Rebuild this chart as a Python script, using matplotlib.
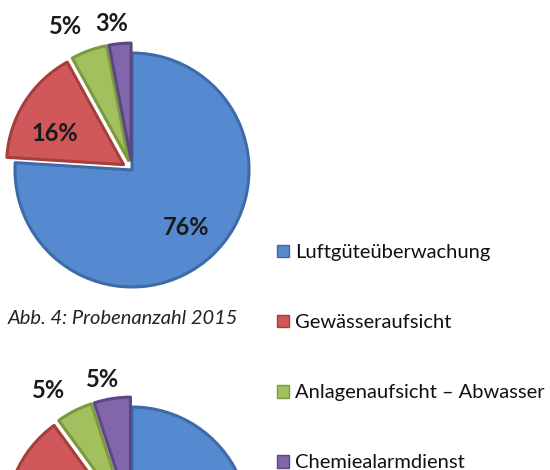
import numpy as np
import matplotlib.pyplot as plt
from matplotlib.patches import Patch

plt.rcParams["font.family"] = ["Lato", "DejaVu Sans"]

categories = ["Luftgüteüberwachung", "Gewässeraufsicht",
              "Anlagenaufsicht – Abwasser", "Chemiealarmdienst"]
share_2015 = [76, 16, 5, 3]
share_2016 = [73, 17, 5, 5]   # lower pie, only its top is visible
caption = "Abb. 4: Probenanzahl 2015"

colors = ["#568AD0", "#D0585A", "#A2C05E", "#8266AA"]
edges = ["#3E6BA8", "#A53F3C", "#7B9A3E", "#5C4683"]
explode = [0.0, 0.085, 0.085, 0.085]
label_dist = [0.67, 0.73, 1.35, 1.26]
label_turn = [0, 7, 5, 2.5]   # degrees, nudges labels like the original

W, H = 550, 470
R = 117

fig = plt.figure(figsize=(5.5, 4.7), dpi=100)
ax = fig.add_axes([0, 0, 1, 1])


def draw_pie(values, cx, cy, show_big=True):
    # matplotlib's explode is in data units, so scale it by the radius
    wedges, texts = ax.pie(values, colors=colors, startangle=90,
                           counterclock=False,
                           explode=[e * R for e in explode], radius=R,
                           center=(cx, cy))
    for t in texts:
        t.remove()
    for w, ec in zip(wedges, edges):
        w.set_edgecolor(ec)
        w.set_linewidth(2.2)
        w.set_joinstyle("round")
    total = sum(values)
    for i, (w, v) in enumerate(zip(wedges, values)):
        if not show_big and i < 2:
            continue
        ang = np.deg2rad((w.theta1 + w.theta2) / 2 + label_turn[i])
        r = R * label_dist[i]
        ax.text(cx + r * np.cos(ang), cy + r * np.sin(ang),
                f"{round(100 * v / total)}%", ha="center", va="center",
                fontsize=17, fontweight="bold", color="#1a1a1a")


draw_pie(share_2015, 132, H - 170)
draw_pie(share_2016, 132, H - 524, show_big=False)

ax.set_xlim(0, W)
ax.set_ylim(0, H)
ax.set_aspect("equal")
ax.axis("off")

fig.text(8 / W, 1 - 318 / H, caption, fontsize=14.5, style="italic",
         color="#222222", va="center", ha="left")

handles = [Patch(facecolor=c, edgecolor=e) for c, e in zip(colors, edges)]
fig.legend(handles, categories, loc="upper left",
           bbox_to_anchor=(277 / W, 1 - 244 / H), frameon=False,
           fontsize=14.5, handlelength=0.6, handleheight=0.6,
           handletextpad=0.3, labelspacing=2.64, borderpad=0,
           borderaxespad=0, labelcolor="#111111")

fig.savefig("out.png", dpi=100)
